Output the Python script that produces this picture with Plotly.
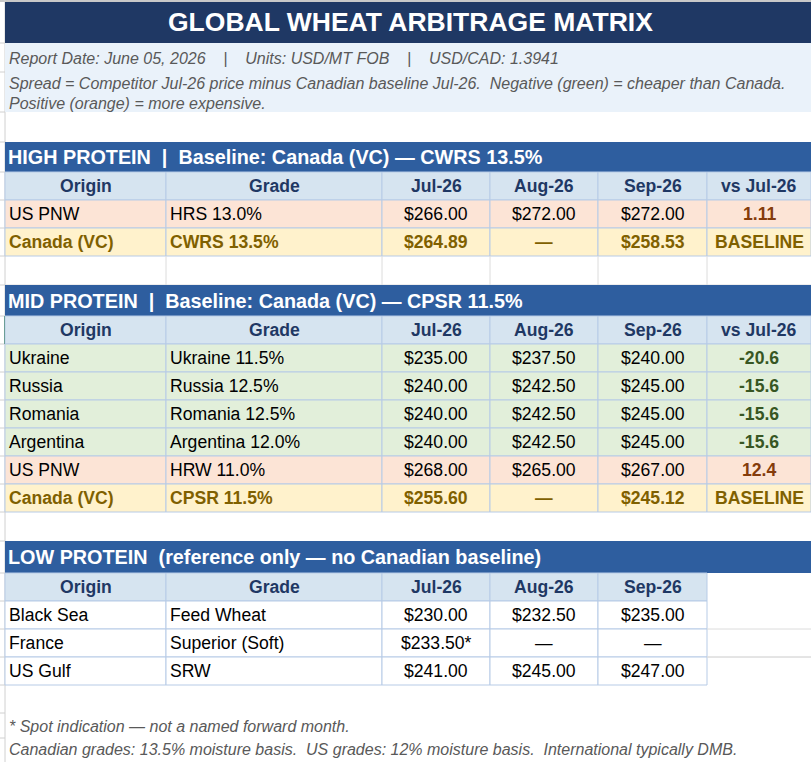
import plotly.graph_objects as go

# ---------------- data ----------------
title = "GLOBAL WHEAT ARBITRAGE MATRIX"
info_report = "Report Date: June 05, 2026    |    Units: USD/MT FOB    |    USD/CAD: 1.3941"
info_spread = "Spread = Competitor Jul-26 price minus Canadian baseline Jul-26.  Negative (green) = cheaper than Canada."
info_spread2 = "Positive (orange) = more expensive."

months = ["Jul-26", "Aug-26", "Sep-26"]
spread_label = "vs Jul-26"

high_title = "HIGH PROTEIN  |  Baseline: Canada (VC) — CWRS 13.5%"
high_origin = ["US PNW", "Canada (VC)"]
high_grade = ["HRS 13.0%", "CWRS 13.5%"]
high_jul = [266.00, 264.89]
high_aug = [272.00, None]
high_sep = [272.00, 258.53]
high_spread = [1.11, None]

mid_title = "MID PROTEIN  |  Baseline: Canada (VC) — CPSR 11.5%"
mid_origin = ["Ukraine", "Russia", "Romania", "Argentina", "US PNW", "Canada (VC)"]
mid_grade = ["Ukraine 11.5%", "Russia 12.5%", "Romania 12.5%", "Argentina 12.0%", "HRW 11.0%", "CPSR 11.5%"]
mid_jul = [235.00, 240.00, 240.00, 240.00, 268.00, 255.60]
mid_aug = [237.50, 242.50, 242.50, 242.50, 265.00, None]
mid_sep = [240.00, 245.00, 245.00, 245.00, 267.00, 245.12]
mid_spread = [-20.6, -15.6, -15.6, -15.6, 12.4, None]

low_title = "LOW PROTEIN  (reference only — no Canadian baseline)"
low_origin = ["Black Sea", "France", "US Gulf"]
low_grade = ["Feed Wheat", "Superior (Soft)", "SRW"]
low_jul = [230.00, 233.50, 241.00]
low_aug = [232.50, None, 245.00]
low_sep = [235.00, None, 247.00]
low_spot = [False, True, False]

footnotes = [
    "* Spot indication — not a named forward month.",
    "Canadian grades: 13.5% moisture basis.  US grades: 12% moisture basis.  International typically DMB.",
]

# ---------------- style ----------------
FONT = "Arial, Liberation Sans, sans-serif"
NAVY = "#1F3864"
BAND = "#2E5E9F"
HEAD = "#D6E4F0"
PEACH = "#FCE4D6"
GREEN = "#E2EFDA"
YELLOW = "#FFF2CC"
INFO = "#EAF2FA"
BORDER = "#B7CBE6"
GRID = "#DCDCDC"
GOLD = "#7F6000"
DKGREEN = "#375623"
DKRED = "#843C0C"
GREY_TXT = "#595959"

W, H = 811, 762
col_x = [5, 166, 382, 490, 598, 707, 811]
ROW_H = 28

shapes = []
annots = []


def rect(x0, y0, x1, y1, fill, line=None):
    shapes.append(dict(type="rect", xref="x", yref="y", x0=x0, x1=x1, y0=y0, y1=y1,
                       fillcolor=fill, line=dict(color=line or fill, width=1 if line else 0)))


def hline(x0, x1, y, color, width=1):
    shapes.append(dict(type="line", xref="x", yref="y", x0=x0, x1=x1, y0=y, y1=y,
                       line=dict(color=color, width=width)))


def vline(x, y0, y1, color, width=1):
    shapes.append(dict(type="line", xref="x", yref="y", x0=x, x1=x, y0=y0, y1=y1,
                       line=dict(color=color, width=width)))


def text(x, y, s, size=17.6, color="#000000", anchor="left", bold=False, italic=False):
    if bold:
        s = "<b>" + s + "</b>"
    if italic:
        s = "<i>" + s + "</i>"
    annots.append(dict(x=x, y=y, xref="x", yref="y", text=s.replace("  ", "\u00a0\u00a0"),
                       showarrow=False, xanchor=anchor, yanchor="middle",
                       font=dict(family=FONT, size=size, color=color)))


def money(v, spot=False):
    if v is None:
        return "—"
    return f"${v:,.2f}" + ("*" if spot else "")


def cell_text(ci, y, s, color, bold):
    if ci < 2:
        text(col_x[ci] + 2, y, s, color=color, bold=bold)
    else:
        text((col_x[ci] + col_x[ci + 1]) / 2, y, s, color=color, anchor="center", bold=bold)


def section(top, band_h, band_text, rows, ncols):
    # band
    rect(col_x[0], top, W, top + band_h, BAND)
    text(col_x[0] + 1, top + band_h / 2, band_text, size=19.8, color="white", bold=True)
    # column header
    y = top + band_h
    headers = ["Origin", "Grade"] + months + ([spread_label] if ncols == 6 else [])
    for ci, h in enumerate(headers):
        rect(col_x[ci], y, col_x[ci + 1], y + ROW_H, HEAD, BORDER)
        text((col_x[ci] + col_x[ci + 1]) / 2, y + ROW_H / 2, h, color=NAVY, anchor="center", bold=True)
    y += ROW_H
    for r in rows:
        for ci in range(ncols):
            rect(col_x[ci], y, col_x[ci + 1], y + ROW_H, r["fill"], BORDER)
        for ci in range(ncols):
            cell_text(ci, y + ROW_H / 2, r["cells"][ci], r["colors"][ci], r["bold"][ci])
        y += ROW_H
    return y


def priced_rows(origin, grade, jul, aug, sep, spread):
    out = []
    for i in range(len(origin)):
        base = spread[i] is None
        if base:
            fill = YELLOW
            sp, spc = "BASELINE", GOLD
        else:
            fill = GREEN if spread[i] < 0 else PEACH
            sp = f"{spread[i]:g}"
            spc = DKGREEN if spread[i] < 0 else DKRED
        txtc = GOLD if base else "#000000"
        out.append(dict(
            fill=fill,
            cells=[origin[i], grade[i], money(jul[i]), money(aug[i]), money(sep[i]), sp],
            colors=[txtc] * 5 + [spc],
            bold=[base] * 5 + [True],
        ))
    return out


low_rows = [dict(fill="white",
                 cells=[low_origin[i], low_grade[i], money(low_jul[i], low_spot[i]),
                        money(low_aug[i]), money(low_sep[i])],
                 colors=["#000000"] * 5, bold=[False] * 5)
            for i in range(len(low_origin))]

# spreadsheet chrome: top line, row-header margin
hline(0, W, 1, "#C8C8C8", 2)
vline(col_x[0], 0, H, "#D0D0D0")
for yy in [43, 72, 112, 142, 172, 200, 228, 256, 285, 316, 344, 372, 400, 428, 456, 484, 512,
           541, 573, 601, 629, 657, 685, 713, 738]:
    hline(0, col_x[0], yy, "#D0D0D0")
vline(col_x[0], 316, 344, "#217346", 2)

# title + info
rect(col_x[0], 2, W, 43, NAVY)
text(410, 22, title, size=26.5, color="white", anchor="center", bold=True)
rect(col_x[0], 43, W, 112, INFO)
text(col_x[0] + 2, 58, info_report, size=16, color=GREY_TXT, italic=True)
text(col_x[0] + 2, 83, info_spread, size=16, color=GREY_TXT, italic=True)
text(col_x[0] + 2, 103, info_spread2, size=16, color=GREY_TXT, italic=True)

end_high = section(142, 30, high_title, priced_rows(high_origin, high_grade, high_jul, high_aug,
                                                     high_sep, high_spread), 6)
# blank spreadsheet row with gridlines
for cx in col_x[1:-1]:
    vline(cx, end_high, 285, GRID)
hline(col_x[0], W, 285, GRID)

section(285, 31, mid_title, priced_rows(mid_origin, mid_grade, mid_jul, mid_aug, mid_sep,
                                        mid_spread), 6)
end_low = section(541, 32, low_title, low_rows, 5)
for k in range(len(low_rows)):
    hline(col_x[5], W, 601 + ROW_H * (k + 1) - (ROW_H if k == len(low_rows) - 1 else 0), GRID)

text(col_x[0] + 2, 726, footnotes[0], size=16, color=GREY_TXT, italic=True)
text(col_x[0] + 2, 749, footnotes[1], size=16, color=GREY_TXT, italic=True)

fig = go.Figure()
fig.add_trace(go.Scatter(x=[0, W], y=[0, H], mode="markers", marker=dict(opacity=0),
                         hoverinfo="skip", showlegend=False))
fig.update_layout(
    width=W, height=H,
    margin=dict(l=0, r=0, t=0, b=0),
    paper_bgcolor="white", plot_bgcolor="white",
    xaxis=dict(range=[0, W], visible=False, fixedrange=True),
    yaxis=dict(range=[H, 0], visible=False, fixedrange=True),
    shapes=shapes, annotations=annots, showlegend=False,
)
fig.write_html("out.html", config={"displayModeBar": False},
               post_script="document.body.style.margin='0';")
